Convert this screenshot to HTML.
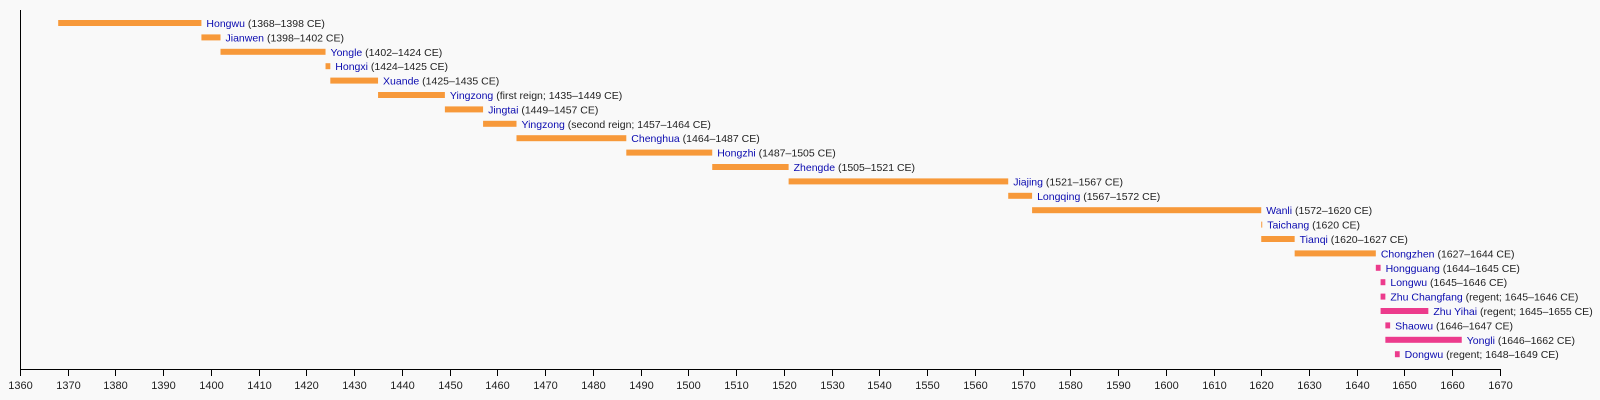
<!DOCTYPE html>
<html><head><meta charset="utf-8"><style>
html,body{margin:0;padding:0;background:#f9f9f9;}
svg{display:block;font-family:"Liberation Sans",sans-serif;}
</style></head><body>
<svg width="1600" height="400" viewBox="0 0 1600 400" xmlns="http://www.w3.org/2000/svg">
<rect width="1600" height="400" fill="#f9f9f9"/>
<line x1="20.5" y1="10" x2="20.5" y2="370" stroke="#000" stroke-width="1"/>
<line x1="20" y1="369.5" x2="1501" y2="369.5" stroke="#000" stroke-width="1"/>
<g id="ticks" stroke="#000" stroke-width="1"></g>
<g id="tl" font-size="11" fill="#222" text-anchor="middle"></g>
<g id="bars"></g>
<g id="labels" font-size="10.5" fill="#222"></g>
</svg>
<script>
const X=y=>20+(y-1360)*4.774;
const ns="http://www.w3.org/2000/svg";
const tk=document.getElementById('ticks'),tl=document.getElementById('tl');
for(let y=1360;y<=1670;y+=10){
 const x=Math.round(X(y))+0.5;
 const l=document.createElementNS(ns,'line');l.setAttribute('x1',x);l.setAttribute('x2',x);l.setAttribute('y1',370);l.setAttribute('y2',376);tk.appendChild(l);
 const t=document.createElementNS(ns,'text');t.setAttribute('x',x);t.setAttribute('y',389);t.textContent=y;tl.appendChild(t);
}
const d=[["Hongwu","1368–1398 CE",1368,1398],["Jianwen","1398–1402 CE",1398,1402],["Yongle","1402–1424 CE",1402,1424],["Hongxi","1424–1425 CE",1424,1425],["Xuande","1425–1435 CE",1425,1435],["Yingzong","first reign; 1435–1449 CE",1435,1449],["Jingtai","1449–1457 CE",1449,1457],["Yingzong","second reign; 1457–1464 CE",1457,1464],["Chenghua","1464–1487 CE",1464,1487],["Hongzhi","1487–1505 CE",1487,1505],["Zhengde","1505–1521 CE",1505,1521],["Jiajing","1521–1567 CE",1521,1567],["Longqing","1567–1572 CE",1567,1572],["Wanli","1572–1620 CE",1572,1620],["Taichang","1620 CE",1620,1620],["Tianqi","1620–1627 CE",1620,1627],["Chongzhen","1627–1644 CE",1627,1644],["Hongguang","1644–1645 CE",1644,1645],["Longwu","1645–1646 CE",1645,1646],["Zhu Changfang","regent; 1645–1646 CE",1645,1646],["Zhu Yihai","regent; 1645–1655 CE",1645,1655],["Shaowu","1646–1647 CE",1646,1647],["Yongli","1646–1662 CE",1646,1662],["Dongwu","regent; 1648–1649 CE",1648,1649]];
const b=document.getElementById('bars'),lb=document.getElementById('labels');
d.forEach((r,i)=>{
 const cy=23+i*14.4;
 const x1=X(r[2]);let w=X(r[3])-x1;if(w<1)w=1;
 const c=i>=17?"#ec3b8c":"#f7993a";
 const rc=document.createElementNS(ns,'rect');rc.setAttribute('x',x1);rc.setAttribute('y',cy-3);rc.setAttribute('width',w);rc.setAttribute('height',6);rc.setAttribute('fill',c);b.appendChild(rc);
 const t=document.createElementNS(ns,'text');t.setAttribute('x',x1+w+5);t.setAttribute('y',cy+4);
 const s=document.createElementNS(ns,'tspan');s.setAttribute('fill','#0b0bb0');s.textContent=r[0];t.appendChild(s);
 t.appendChild(document.createTextNode(" ("+r[1]+")"));lb.appendChild(t);
});
</script>
</body></html>
